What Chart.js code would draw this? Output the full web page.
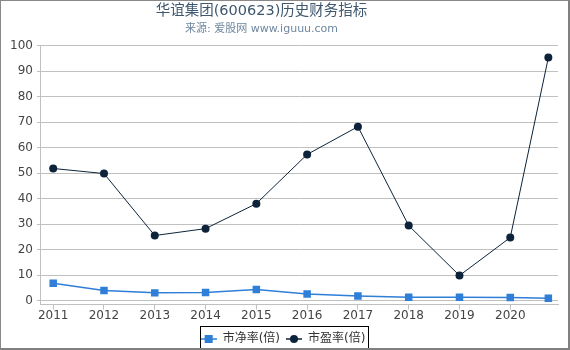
<!DOCTYPE html>
<html>
<head>
<meta charset="utf-8">
<script src="https://cdn.jsdelivr.net/npm/chart.js@4/dist/chart.umd.min.js"></script>
<style>
  body { margin: 0; background: #fff; }
  #wrap { position: relative; width: 570px; height: 350px; }
  #myChart { position: absolute; left: 0; top: 0; }
  #frame {
    position: absolute; left: 0; top: 0; width: 570px; height: 350px;
    box-sizing: border-box; pointer-events: none;
    border-left: 1px solid #888; border-top: 1px solid #888;
    border-right: 2px solid #808080; border-bottom: 2px solid #808080;
  }
</style>
</head>
<body>
<div id="wrap">
  <canvas id="myChart" width="570" height="350"></canvas>
  <div id="frame"></div>
</div>
<script>
  // data
  const years = [2011, 2012, 2013, 2014, 2015, 2016, 2017, 2018, 2019, 2020, 2020.75];
  const pbValues = [6.8, 3.9, 3.0, 3.1, 4.3, 2.6, 1.8, 1.3, 1.3, 1.2, 0.9];
  const peValues = [51.8, 49.8, 25.5, 28.2, 38.0, 57.3, 68.2, 29.4, 9.8, 24.7, 95.3];
  const xTickLabels = [2011, 2012, 2013, 2014, 2015, 2016, 2017, 2018, 2019, 2020];
  const yTickLabels = [0, 10, 20, 30, 40, 50, 60, 70, 80, 90, 100];
  const seriesNames = ['市净率(倍)', '市盈率(倍)'];
  const seriesColors = ['#2f7ed8', '#0d233a'];

  // legend symbol: short line with the marker in the middle
  function legendIcon(color, shape) {
    const c = document.createElement('canvas');
    c.width = 16; c.height = 10;
    const g = c.getContext('2d');
    g.strokeStyle = color;
    g.lineWidth = 1.5;
    g.beginPath(); g.moveTo(0, 5); g.lineTo(16, 5); g.stroke();
    g.fillStyle = color;
    if (shape === 'rect') {
      g.fillRect(4, 1, 8, 8);
    } else {
      g.beginPath(); g.arc(8, 5, 4, 0, Math.PI * 2); g.fill();
    }
    return c;
  }

  // titles sit a bit left of centre in the original, legend a bit right and lower
  const nudge = {
    id: 'nudge',
    afterLayout(chart) {
      chart.boxes.forEach(b => {
        if (b.options && typeof b.options.text === 'string' && b.options.display) {
          b.left = 0; b.right = 523;
        }
      });
      chart.legend.left += 4;
      chart.legend.right += 4;
      chart.legend.top += 2;
      chart.legend.bottom += 2;
    }
  };

  const legendBorder = {
    id: 'legendBorder',
    afterDraw(chart) {
      const boxes = chart.legend.legendHitBoxes;
      if (!boxes || !boxes.length) return;
      const left = Math.min(...boxes.map(b => b.left)) - 1;
      const right = Math.max(...boxes.map(b => b.left + b.width)) + 2;
      const top = Math.min(...boxes.map(b => b.top)) - 7;
      const bottom = Math.max(...boxes.map(b => b.top + b.height)) + 3;
      const ctx = chart.ctx;
      ctx.save();
      ctx.strokeStyle = '#000';
      ctx.lineWidth = 1;
      ctx.strokeRect(Math.round(left) + 0.5, Math.round(top) + 0.5, Math.round(right - left), Math.round(bottom - top));
      ctx.restore();
    }
  };

  const ctx = document.getElementById('myChart').getContext('2d');
  new Chart(ctx, {
    type: 'line',
    data: {
      datasets: [
        {
          label: seriesNames[0],
          data: years.map((y, i) => ({ x: y, y: pbValues[i] })),
          borderColor: seriesColors[0],
          backgroundColor: seriesColors[0],
          borderWidth: 1.5,
          pointStyle: 'rect',
          pointRadius: 5.3,
          pointBorderWidth: 0,
          tension: 0
        },
        {
          label: seriesNames[1],
          data: years.map((y, i) => ({ x: y, y: peValues[i] })),
          borderColor: seriesColors[1],
          backgroundColor: seriesColors[1],
          borderWidth: 1,
          pointStyle: 'circle',
          pointRadius: 4,
          pointBorderWidth: 0,
          tension: 0
        }
      ]
    },
    options: {
      responsive: false,
      animation: false,
      layout: { padding: { left: 0, right: 12, top: 0, bottom: -3 } },
      scales: {
        x: {
          type: 'linear',
          min: 2010.74,
          max: 2020.94,
          afterBuildTicks: s => { s.ticks = xTickLabels.map(v => ({ value: v })); },
          afterFit: s => { s.height += 3; },
          ticks: {
            color: '#444',
            font: { family: 'DejaVu Sans', size: 12 },
            padding: -1,
            maxRotation: 0,
            callback: v => String(v)
          },
          grid: { drawOnChartArea: false, drawTicks: true, tickLength: 5, color: '#c0c0c0' },
          border: { display: true, color: '#c0c0c0' }
        },
        y: {
          min: -1.6,
          max: 100,
          afterBuildTicks: s => { s.ticks = yTickLabels.map(v => ({ value: v })); },
          afterFit: s => { s.width = 40; },
          ticks: {
            color: '#444',
            font: { family: 'DejaVu Sans', size: 12 },
            padding: 4
          },
          grid: { color: '#c0c0c0', tickLength: 3 },
          border: { display: true, color: '#c0c0c0' }
        }
      },
      plugins: {
        title: {
          display: true,
          text: '华谊集团(600623)历史财务指标',
          color: '#3e576f',
          font: { family: 'DejaVu Sans, Noto Sans CJK SC', size: 14.5, weight: 'normal' },
          padding: { top: 3, bottom: 0 }
        },
        subtitle: {
          display: true,
          text: '来源: 爱股网 www.iguuu.com',
          color: '#6d869f',
          font: { family: 'DejaVu Sans, Noto Sans CJK SC', size: 11 },
          padding: { top: 2, bottom: 10 }
        },
        legend: {
          position: 'bottom',
          labels: {
            usePointStyle: true,
            pointStyleWidth: 16,
            color: '#333',
            font: { family: 'DejaVu Sans, Noto Sans CJK SC', size: 12 },
            padding: 6,
            generateLabels: chart => chart.data.datasets.map((ds, i) => ({
              text: ds.label,
              fillStyle: ds.borderColor,
              strokeStyle: ds.borderColor,
              fontColor: '#333',
              lineWidth: 0,
              pointStyle: legendIcon(ds.borderColor, i === 0 ? 'rect' : 'circle'),
              datasetIndex: i
            }))
          }
        },
        tooltip: { enabled: false }
      }
    },
    plugins: [nudge, legendBorder]
  });
</script>
</body>
</html>
